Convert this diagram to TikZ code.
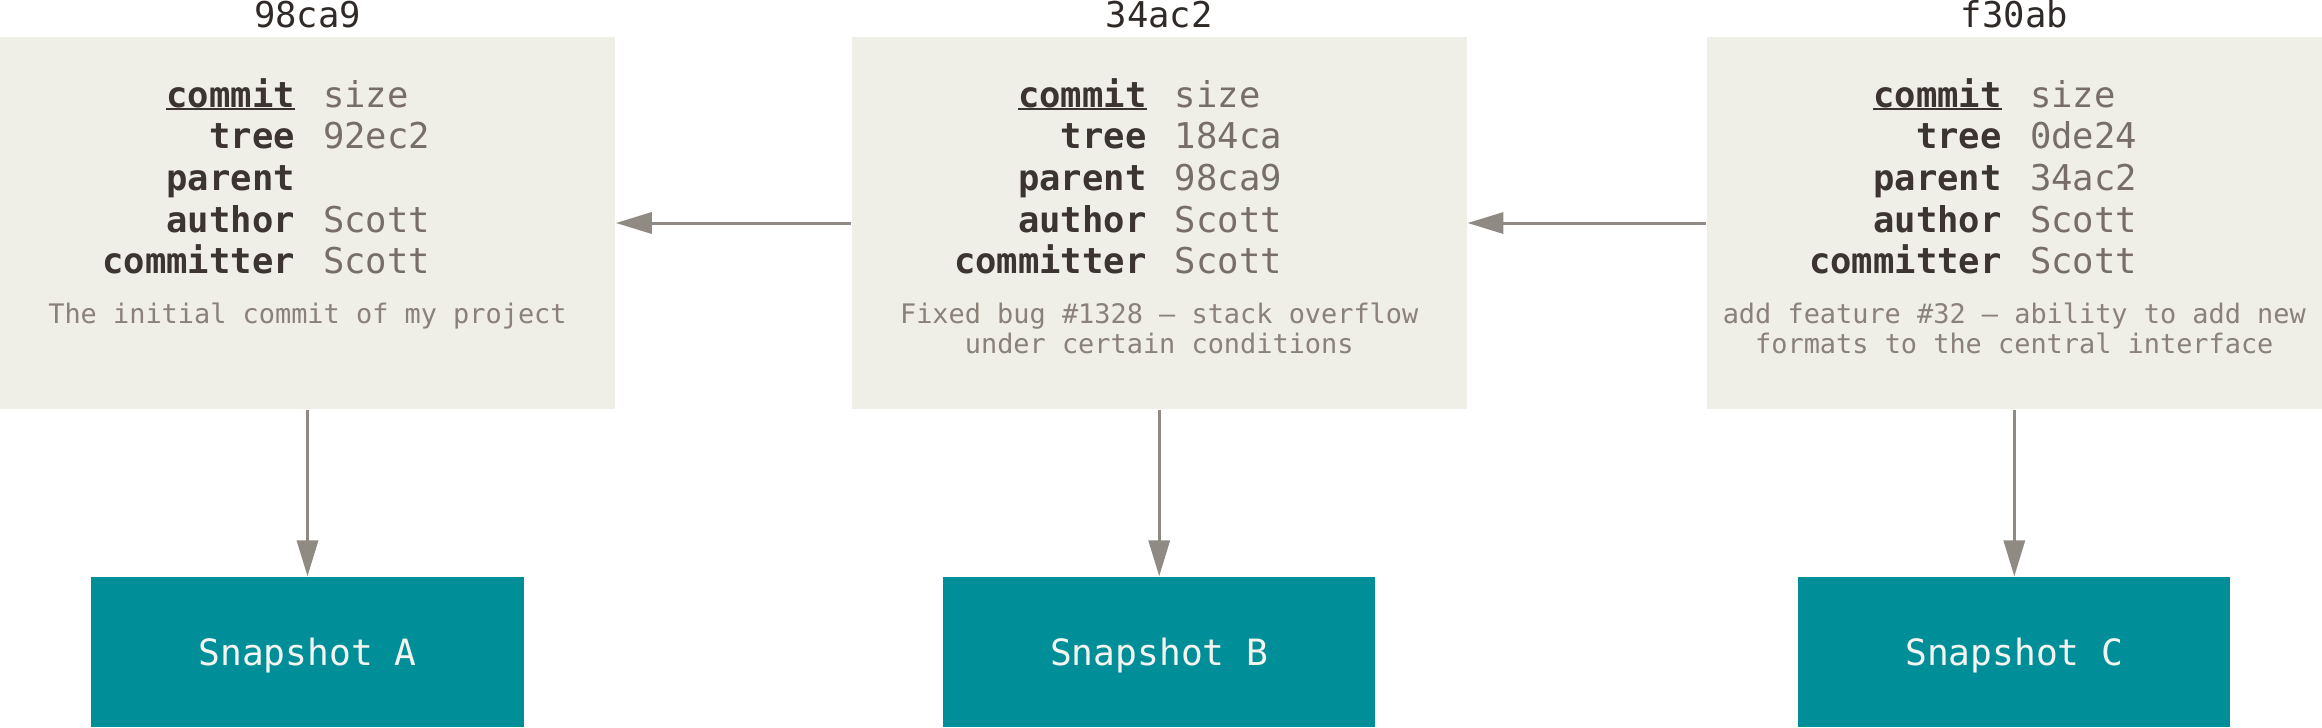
\documentclass[tikz,border=0pt]{standalone}
\usepackage{fontspec}
\setmonofont{DejaVu Sans Mono}
\usetikzlibrary{arrows.meta}
\definecolor{boxfill}{HTML}{EFEEE7}
\definecolor{keycol}{HTML}{3B3430}
\definecolor{valcol}{HTML}{766E67}
\definecolor{msgcol}{HTML}{8A8179}
\definecolor{titlecol}{HTML}{2F2A27}
\definecolor{arrowcol}{HTML}{8F8A84}
\definecolor{snapfill}{HTML}{008F98}
\definecolor{snaptext}{HTML}{F4F4F0}
\tikzset{
  commitbox/.style={fill=boxfill, draw=none, inner sep=0pt, minimum width=6.15cm, minimum height=3.72cm},
  snapbox/.style={fill=snapfill, draw=none, inner sep=0pt, minimum width=4.32cm, minimum height=1.5cm,
    text height=0.9em, text depth=0.14em,
    text=snaptext, font=\ttfamily\fontsize{10.3}{12}\selectfont},
  keytext/.style={anchor=base east, inner sep=0pt, text=keycol, font=\ttfamily\bfseries\fontsize{10.1}{12}\selectfont},
  valtext/.style={anchor=base west, inner sep=0pt, text=valcol, font=\ttfamily\fontsize{10.1}{12}\selectfont},
  msgtext/.style={anchor=base, inner sep=0pt, text=msgcol, font=\ttfamily\fontsize{7.65}{9}\selectfont},
  titletext/.style={anchor=base, inner sep=0pt, text=titlecol, font=\ttfamily\fontsize{10.1}{12}\selectfont},
  link/.style={draw=arrowcol, line width=0.85pt, -{Triangle[length=10.2pt,width=6pt]}}
}
\newcommand{\ulkey}[1]{\setbox0\hbox{#1}\leavevmode\rlap{\rule[-0.9pt]{\wd0}{0.55pt}}\box0}
\newcommand{\commitgroup}[8]{%
  \node[commitbox] (#1) at (#2,223) {};
  \node[titletext] (#1-title) at (#2,27) {#3};
  \node[keytext] (#1-k1) at ({#2-12},107) {\ulkey{commit}};
  \node[keytext] (#1-k2) at ({#2-12},148) {tree};
  \node[keytext] (#1-k3) at ({#2-12},190) {parent};
  \node[keytext] (#1-k4) at ({#2-12},232) {author};
  \node[keytext] (#1-k5) at ({#2-12},273) {committer};
  \node[valtext] (#1-v1) at ({#2+15},107) {size};
  \node[valtext] (#1-v2) at ({#2+15},148) {#4};
  \if\relax\detokenize{#5}\relax\else
  \node[valtext] (#1-v3) at ({#2+15},190) {#5};
  \fi
  \node[valtext] (#1-v4) at ({#2+15},232) {Scott};
  \node[valtext] (#1-v5) at ({#2+15},273) {Scott};
  \node[msgtext] (#1-m1) at (#2,323) {#6};
  \if\relax\detokenize{#7}\relax\else
  \node[msgtext] (#1-m2) at (#2,353) {#7};
  \fi
  \node[snapbox] (#1-snap) at (#2,652) {Snapshot #8};
  \draw[link] (#1) -- (#1-snap);
}
\begin{document}
\begin{tikzpicture}[x=0.01cm, y=-0.01cm]
  \useasboundingbox (0,0) rectangle (2322,727);
  \commitgroup{c1}{307.5}{98ca9}{92ec2}{}{The initial commit of my project}{}{A}
  \commitgroup{c2}{1159.2}{34ac2}{184ca}{98ca9}{Fixed bug \#1328 – stack overflow}{under certain conditions}{B}
  \commitgroup{c3}{2014.3}{f30ab}{0de24}{34ac2}{add feature \#32 – ability to add new}{formats to the central interface}{C}
  \draw[link] (c2) -- (c1);
  \draw[link] (c3) -- (c2);
\end{tikzpicture}
\end{document}
